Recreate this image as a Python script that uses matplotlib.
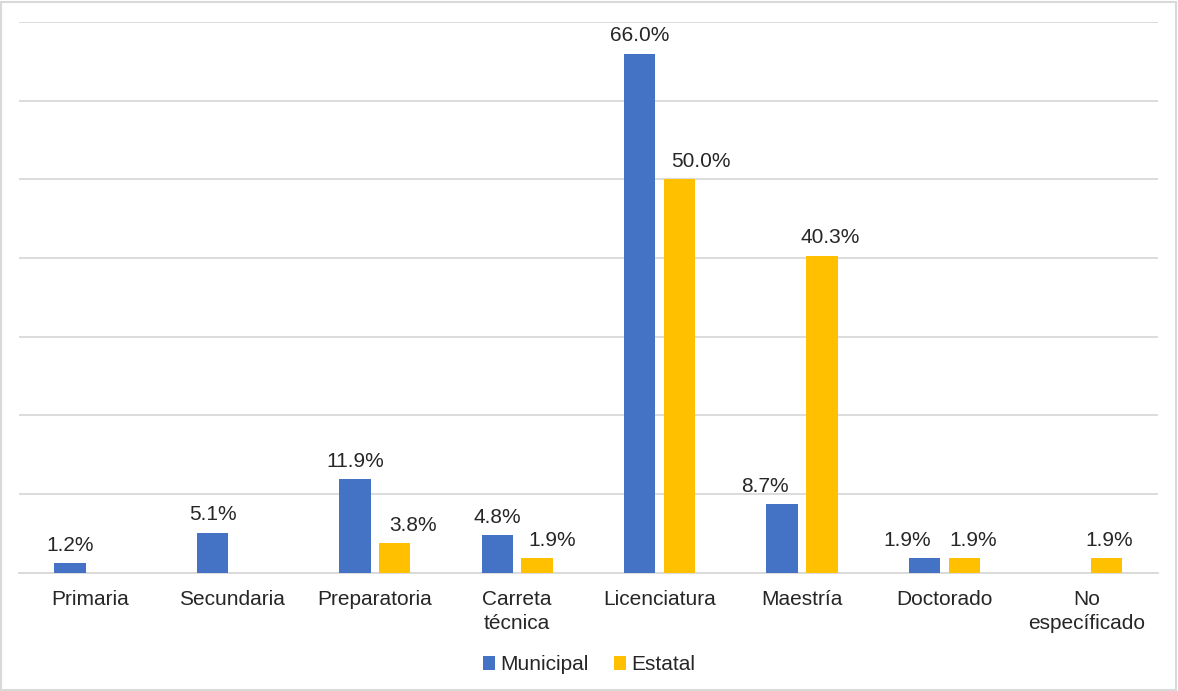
import matplotlib
matplotlib.use('Agg')
from matplotlib import pyplot as plt
from matplotlib.patches import Rectangle
import numpy as np

plt.rcParams['font.family'] = ['Liberation Sans', 'DejaVu Sans']

categorias = ['Primaria', 'Secundaria', 'Preparatoria', 'Carreta\ntécnica',
              'Licenciatura', 'Maestría', 'Doctorado', 'No\nespecíficado']
municipal = [1.2, 5.1, 11.9, 4.8, 66.0, 8.7, 1.9, 0.0]
estatal = [0.0, 0.0, 3.8, 1.9, 50.0, 40.3, 1.9, 1.9]

azul = '#4472C4'
oro = '#FFC000'
fs = 15

# desplazamiento horizontal de las etiquetas (px), como en el original
dx_mun = [0, 0, 0, 0, 0, -17, -17, 0]
dx_est = [0, 0, 18, 15, 21, 8, 9, 2]

fig = plt.figure(figsize=(11.78, 6.91), dpi=100)
ax = fig.add_axes([0.016, 0.171, 0.967, 0.797])

x = np.arange(len(categorias))
w = 0.22
off = 0.14
b1 = ax.bar(x - off, municipal, w, color=azul, label='Municipal', zorder=3)
b2 = ax.bar(x + off, estatal, w, color=oro, label='Estatal', zorder=3)

for bars, vals, dxs in ((b1, municipal, dx_mun), (b2, estatal, dx_est)):
    for r, v, d in zip(bars, vals, dxs):
        if v > 0:
            ax.annotate(f'{v:.1f}%', (r.get_x() + r.get_width() / 2, v),
                        xytext=(d * 0.72, 6), textcoords='offset points',
                        ha='center', va='bottom', fontsize=fs, color='#262626')

ax.set_xlim(-0.5, len(categorias) - 0.5)
ax.set_ylim(0, 70)
ax.set_yticks(np.arange(0, 71, 10))
ax.yaxis.grid(True, color='#D9D9D9', lw=1.3, zorder=0)
ax.tick_params(axis='y', left=False, labelleft=False)
ax.tick_params(axis='x', bottom=False, labelsize=fs, labelcolor='#262626', pad=9)
ax.set_xticks(x)
ax.set_xticklabels(categorias, linespacing=1.3)
for s in ['top', 'right', 'left']:
    ax.spines[s].set_visible(False)
ax.spines['bottom'].set_color('#D9D9D9')
ax.spines['bottom'].set_linewidth(1.3)

fig.legend(loc='center', bbox_to_anchor=(0.5, 0.038), ncol=2, frameon=False,
           fontsize=fs, handlelength=0.6, handleheight=0.6, handletextpad=0.25,
           columnspacing=1.2, labelcolor='#262626')

fig.patches.append(Rectangle((0.001, 0.002), 0.997, 0.995, transform=fig.transFigure,
                             fill=False, edgecolor='#D9D9D9', lw=1.5))

fig.savefig('out.png', dpi=100)
